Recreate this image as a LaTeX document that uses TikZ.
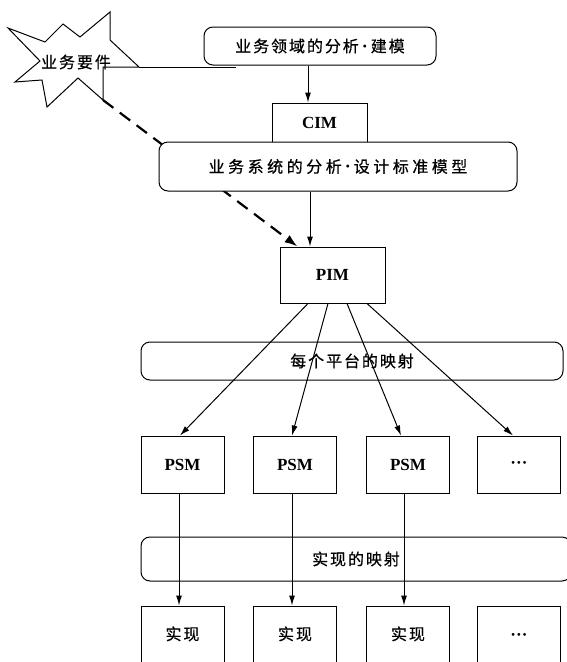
\documentclass[tikz,border=0pt]{standalone}
\usepackage{fontspec}
\setmainfont{Liberation Serif}
\newfontfamily\cjk{Noto Sans CJK SC}[LetterSpace=12,FakeBold=0.6]
\newfontfamily\cjkwide{Noto Sans CJK SC}[LetterSpace=22,FakeBold=0.6]
\newcommand\mdot{{\rmfamily\bfseries\fontsize{18}{18}\selectfont\,·\,}}
\usetikzlibrary{arrows.meta}
\begin{document}
\begin{tikzpicture}[x=1pt,y=-1pt,
  box/.style={draw,line width=1pt,inner sep=0pt,fill=white},
  rbox/.style={box,rounded corners=9pt},
  obox/.style={draw,line width=1pt,inner sep=0pt,rounded corners=9pt},
  cn/.style={font=\cjk\fontsize{16}{16}\selectfont},
  cnw/.style={font=\cjkwide\fontsize{16}{16}\selectfont},
  lat/.style={font=\bfseries\fontsize{17}{17}\selectfont},
  arr/.style={line width=1pt,-{Latex[length=10pt,width=6pt]}},
  darr/.style={line width=2.2pt,dash pattern=on 13pt off 8pt,-{Latex[length=13pt,width=9pt]}},
  psmbox/.style={box,minimum width=83pt,minimum height=57pt,lat},
  implbox/.style={box,minimum width=83pt,minimum height=64pt,text height=12pt,text depth=8pt}]
\useasboundingbox (0,0) rectangle (566,662);

% star
\coordinate (sB) at (103,100);
\coordinate (sR) at (139,67);
\coordinate (lineEnd) at (236,67);
\draw[line width=1pt,line join=miter] (8,28) -- (45,42) -- (63,24) -- (80,37) -- (110,12) -- (110,40) -- (sR) -- (103,67) -- (sB) -- (78,78) -- (47,107) -- (42,80) -- (15,82) -- (40,61) -- cycle;
\node[cn] (req) at (76,62) {业务要件};
\draw[line width=1pt] (sR) -- (lineEnd);

% PIM first (for dashed target)
\node[box,minimum width=105pt,minimum height=56pt,lat] (pim) at (332.5,275) {PIM};
\draw[darr] (sB) -- ([xshift=18pt]pim.north west);

% top boxes
\node[rbox,minimum width=232pt,minimum height=38pt,cn] (dom) at (320,46) {业务领域的分析\mdot 建模};
\node[box,minimum width=95pt,minimum height=39pt,lat] (cim) at (319.5,122.5) {CIM};
\node[rbox,minimum width=358pt,minimum height=49pt,cnw] (sys) at (338,166.5) {业务系统的分析\mdot 设计标准模型};

\coordinate (a1) at ([xshift=-11.5pt]cim.north);
\draw[arr] (a1 |- dom.south) -- (a1);
\coordinate (a2) at ([xshift=-22.5pt]pim.north);
\draw[arr] (a2 |- sys.south) -- (a2);

% platform mapping
\node[obox,minimum width=422pt,minimum height=38pt,cn] (map1) at (352,361) {每个平台的映射};

\node[psmbox] (psm1) at (182.5,464.5) {PSM};
\node[psmbox] (psm2) at (295,464.5) {PSM};
\node[psmbox] (psm3) at (408,464.5) {PSM};
\node[psmbox] (psm4) at (519,464.5) {···};

\draw[arr] ([xshift=-24.5pt]pim.south) -- ([xshift=-2.5pt]psm1.north);
\draw[arr] ([xshift=-4.5pt]pim.south) -- ([xshift=-3pt]psm2.north);
\draw[arr] ([xshift=14.5pt]pim.south) -- ([xshift=-7pt]psm3.north);
\draw[arr] ([xshift=34.5pt]pim.south) -- ([xshift=-6pt]psm4.north);

% implementation mapping
\node[obox,minimum width=430pt,minimum height=44pt,cn] (map2) at (356,559) {实现的映射};

\node[implbox,cn] (imp1) at (182.5,638) {实现};
\node[implbox,cn] (imp2) at (295,638) {实现};
\node[implbox,cn] (imp3) at (408,638) {实现};
\node[implbox,lat] (imp4) at (519,638) {···};

\draw[arr] ([xshift=-3.5pt]psm1.south) -- ([xshift=-3.5pt]imp1.north);
\draw[arr] ([xshift=-3pt]psm2.south) -- ([xshift=-3pt]imp2.north);
\draw[arr] ([xshift=-4pt]psm3.south) -- ([xshift=-4pt]imp3.north);
\end{tikzpicture}
\end{document}
